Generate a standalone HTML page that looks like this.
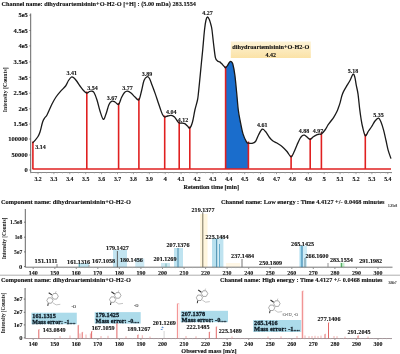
<!DOCTYPE html>
<html><head><meta charset="utf-8"><style>
html,body{margin:0;padding:0;background:#fff;width:400px;height:354px;overflow:hidden}
svg{display:block;font-family:"Liberation Serif",serif;will-change:transform}
</style></head><body>
<svg width="400" height="354" viewBox="0 0 400 354">
<rect width="400" height="354" fill="#fff"/>
<text x="1.5" y="5.7" font-size="7" text-anchor="start" font-weight="bold" fill="#111" stroke="#111" stroke-width="0.12" textLength="194.5" lengthAdjust="spacingAndGlyphs">Channel name: dihydroartemisinin+O-H2-O [+H] : (5.00 mDa) 283.1554</text>
<text x="27.8" y="17.3" font-size="6.5" text-anchor="end" font-weight="bold" fill="#111" stroke="#111" stroke-width="0.12">5e5</text>
<text x="27.8" y="32.6" font-size="6.5" text-anchor="end" font-weight="bold" fill="#111" stroke="#111" stroke-width="0.12">4.5e5</text>
<text x="27.8" y="48.0" font-size="6.5" text-anchor="end" font-weight="bold" fill="#111" stroke="#111" stroke-width="0.12">4e5</text>
<text x="27.8" y="64.0" font-size="6.5" text-anchor="end" font-weight="bold" fill="#111" stroke="#111" stroke-width="0.12">3.5e5</text>
<text x="27.8" y="79.5" font-size="6.5" text-anchor="end" font-weight="bold" fill="#111" stroke="#111" stroke-width="0.12">3e5</text>
<text x="27.8" y="95.3" font-size="6.5" text-anchor="end" font-weight="bold" fill="#111" stroke="#111" stroke-width="0.12">2.5e5</text>
<text x="27.8" y="110.9" font-size="6.5" text-anchor="end" font-weight="bold" fill="#111" stroke="#111" stroke-width="0.12">2e5</text>
<text x="27.8" y="126.1" font-size="6.5" text-anchor="end" font-weight="bold" fill="#111" stroke="#111" stroke-width="0.12">1.5e5</text>
<text x="27.8" y="141.1" font-size="6.5" text-anchor="end" font-weight="bold" fill="#111" stroke="#111" stroke-width="0.12">100000</text>
<text x="27.8" y="157.1" font-size="6.5" text-anchor="end" font-weight="bold" fill="#111" stroke="#111" stroke-width="0.12">50000</text>
<text x="27.8" y="172.1" font-size="6.5" text-anchor="end" font-weight="bold" fill="#111" stroke="#111" stroke-width="0.12">0</text>
<line x1="30.7" y1="13.5" x2="30.7" y2="172.5" stroke="#666" stroke-width="1"/>
<line x1="30.2" y1="172.5" x2="392" y2="172.5" stroke="#888" stroke-width="1"/>
<line x1="38.0" y1="172.5" x2="38.0" y2="174.2" stroke="#888" stroke-width="0.8"/>
<line x1="53.9" y1="172.5" x2="53.9" y2="174.2" stroke="#888" stroke-width="0.8"/>
<line x1="69.8" y1="172.5" x2="69.8" y2="174.2" stroke="#888" stroke-width="0.8"/>
<line x1="85.7" y1="172.5" x2="85.7" y2="174.2" stroke="#888" stroke-width="0.8"/>
<line x1="101.6" y1="172.5" x2="101.6" y2="174.2" stroke="#888" stroke-width="0.8"/>
<line x1="117.5" y1="172.5" x2="117.5" y2="174.2" stroke="#888" stroke-width="0.8"/>
<line x1="133.4" y1="172.5" x2="133.4" y2="174.2" stroke="#888" stroke-width="0.8"/>
<line x1="149.3" y1="172.5" x2="149.3" y2="174.2" stroke="#888" stroke-width="0.8"/>
<line x1="165.2" y1="172.5" x2="165.2" y2="174.2" stroke="#888" stroke-width="0.8"/>
<line x1="181.1" y1="172.5" x2="181.1" y2="174.2" stroke="#888" stroke-width="0.8"/>
<line x1="197.0" y1="172.5" x2="197.0" y2="174.2" stroke="#888" stroke-width="0.8"/>
<line x1="212.9" y1="172.5" x2="212.9" y2="174.2" stroke="#888" stroke-width="0.8"/>
<line x1="228.8" y1="172.5" x2="228.8" y2="174.2" stroke="#888" stroke-width="0.8"/>
<line x1="244.7" y1="172.5" x2="244.7" y2="174.2" stroke="#888" stroke-width="0.8"/>
<line x1="260.6" y1="172.5" x2="260.6" y2="174.2" stroke="#888" stroke-width="0.8"/>
<line x1="276.5" y1="172.5" x2="276.5" y2="174.2" stroke="#888" stroke-width="0.8"/>
<line x1="292.4" y1="172.5" x2="292.4" y2="174.2" stroke="#888" stroke-width="0.8"/>
<line x1="308.3" y1="172.5" x2="308.3" y2="174.2" stroke="#888" stroke-width="0.8"/>
<line x1="324.2" y1="172.5" x2="324.2" y2="174.2" stroke="#888" stroke-width="0.8"/>
<line x1="340.1" y1="172.5" x2="340.1" y2="174.2" stroke="#888" stroke-width="0.8"/>
<line x1="356.0" y1="172.5" x2="356.0" y2="174.2" stroke="#888" stroke-width="0.8"/>
<line x1="371.9" y1="172.5" x2="371.9" y2="174.2" stroke="#888" stroke-width="0.8"/>
<line x1="387.8" y1="172.5" x2="387.8" y2="174.2" stroke="#888" stroke-width="0.8"/>
<line x1="30.7" y1="172.5" x2="30.7" y2="173.5" stroke="#aaa" stroke-width="0.6"/>
<line x1="36.0" y1="172.5" x2="36.0" y2="173.5" stroke="#aaa" stroke-width="0.6"/>
<line x1="41.3" y1="172.5" x2="41.3" y2="173.5" stroke="#aaa" stroke-width="0.6"/>
<line x1="46.6" y1="172.5" x2="46.6" y2="173.5" stroke="#aaa" stroke-width="0.6"/>
<line x1="51.9" y1="172.5" x2="51.9" y2="173.5" stroke="#aaa" stroke-width="0.6"/>
<line x1="57.2" y1="172.5" x2="57.2" y2="173.5" stroke="#aaa" stroke-width="0.6"/>
<line x1="62.5" y1="172.5" x2="62.5" y2="173.5" stroke="#aaa" stroke-width="0.6"/>
<line x1="67.8" y1="172.5" x2="67.8" y2="173.5" stroke="#aaa" stroke-width="0.6"/>
<line x1="73.1" y1="172.5" x2="73.1" y2="173.5" stroke="#aaa" stroke-width="0.6"/>
<line x1="78.4" y1="172.5" x2="78.4" y2="173.5" stroke="#aaa" stroke-width="0.6"/>
<line x1="83.7" y1="172.5" x2="83.7" y2="173.5" stroke="#aaa" stroke-width="0.6"/>
<line x1="89.0" y1="172.5" x2="89.0" y2="173.5" stroke="#aaa" stroke-width="0.6"/>
<line x1="94.3" y1="172.5" x2="94.3" y2="173.5" stroke="#aaa" stroke-width="0.6"/>
<line x1="99.6" y1="172.5" x2="99.6" y2="173.5" stroke="#aaa" stroke-width="0.6"/>
<line x1="104.9" y1="172.5" x2="104.9" y2="173.5" stroke="#aaa" stroke-width="0.6"/>
<line x1="110.2" y1="172.5" x2="110.2" y2="173.5" stroke="#aaa" stroke-width="0.6"/>
<line x1="115.5" y1="172.5" x2="115.5" y2="173.5" stroke="#aaa" stroke-width="0.6"/>
<line x1="120.8" y1="172.5" x2="120.8" y2="173.5" stroke="#aaa" stroke-width="0.6"/>
<line x1="126.1" y1="172.5" x2="126.1" y2="173.5" stroke="#aaa" stroke-width="0.6"/>
<line x1="131.4" y1="172.5" x2="131.4" y2="173.5" stroke="#aaa" stroke-width="0.6"/>
<line x1="136.7" y1="172.5" x2="136.7" y2="173.5" stroke="#aaa" stroke-width="0.6"/>
<line x1="142.0" y1="172.5" x2="142.0" y2="173.5" stroke="#aaa" stroke-width="0.6"/>
<line x1="147.3" y1="172.5" x2="147.3" y2="173.5" stroke="#aaa" stroke-width="0.6"/>
<line x1="152.6" y1="172.5" x2="152.6" y2="173.5" stroke="#aaa" stroke-width="0.6"/>
<line x1="157.9" y1="172.5" x2="157.9" y2="173.5" stroke="#aaa" stroke-width="0.6"/>
<line x1="163.2" y1="172.5" x2="163.2" y2="173.5" stroke="#aaa" stroke-width="0.6"/>
<line x1="168.5" y1="172.5" x2="168.5" y2="173.5" stroke="#aaa" stroke-width="0.6"/>
<line x1="173.8" y1="172.5" x2="173.8" y2="173.5" stroke="#aaa" stroke-width="0.6"/>
<line x1="179.1" y1="172.5" x2="179.1" y2="173.5" stroke="#aaa" stroke-width="0.6"/>
<line x1="184.4" y1="172.5" x2="184.4" y2="173.5" stroke="#aaa" stroke-width="0.6"/>
<line x1="189.7" y1="172.5" x2="189.7" y2="173.5" stroke="#aaa" stroke-width="0.6"/>
<line x1="195.0" y1="172.5" x2="195.0" y2="173.5" stroke="#aaa" stroke-width="0.6"/>
<line x1="200.3" y1="172.5" x2="200.3" y2="173.5" stroke="#aaa" stroke-width="0.6"/>
<line x1="205.6" y1="172.5" x2="205.6" y2="173.5" stroke="#aaa" stroke-width="0.6"/>
<line x1="210.9" y1="172.5" x2="210.9" y2="173.5" stroke="#aaa" stroke-width="0.6"/>
<line x1="216.2" y1="172.5" x2="216.2" y2="173.5" stroke="#aaa" stroke-width="0.6"/>
<line x1="221.5" y1="172.5" x2="221.5" y2="173.5" stroke="#aaa" stroke-width="0.6"/>
<line x1="226.8" y1="172.5" x2="226.8" y2="173.5" stroke="#aaa" stroke-width="0.6"/>
<line x1="232.1" y1="172.5" x2="232.1" y2="173.5" stroke="#aaa" stroke-width="0.6"/>
<line x1="237.4" y1="172.5" x2="237.4" y2="173.5" stroke="#aaa" stroke-width="0.6"/>
<line x1="242.7" y1="172.5" x2="242.7" y2="173.5" stroke="#aaa" stroke-width="0.6"/>
<line x1="248.0" y1="172.5" x2="248.0" y2="173.5" stroke="#aaa" stroke-width="0.6"/>
<line x1="253.3" y1="172.5" x2="253.3" y2="173.5" stroke="#aaa" stroke-width="0.6"/>
<line x1="258.6" y1="172.5" x2="258.6" y2="173.5" stroke="#aaa" stroke-width="0.6"/>
<line x1="263.9" y1="172.5" x2="263.9" y2="173.5" stroke="#aaa" stroke-width="0.6"/>
<line x1="269.2" y1="172.5" x2="269.2" y2="173.5" stroke="#aaa" stroke-width="0.6"/>
<line x1="274.5" y1="172.5" x2="274.5" y2="173.5" stroke="#aaa" stroke-width="0.6"/>
<line x1="279.8" y1="172.5" x2="279.8" y2="173.5" stroke="#aaa" stroke-width="0.6"/>
<line x1="285.1" y1="172.5" x2="285.1" y2="173.5" stroke="#aaa" stroke-width="0.6"/>
<line x1="290.4" y1="172.5" x2="290.4" y2="173.5" stroke="#aaa" stroke-width="0.6"/>
<line x1="295.7" y1="172.5" x2="295.7" y2="173.5" stroke="#aaa" stroke-width="0.6"/>
<line x1="301.0" y1="172.5" x2="301.0" y2="173.5" stroke="#aaa" stroke-width="0.6"/>
<line x1="306.3" y1="172.5" x2="306.3" y2="173.5" stroke="#aaa" stroke-width="0.6"/>
<line x1="311.6" y1="172.5" x2="311.6" y2="173.5" stroke="#aaa" stroke-width="0.6"/>
<line x1="316.9" y1="172.5" x2="316.9" y2="173.5" stroke="#aaa" stroke-width="0.6"/>
<line x1="322.2" y1="172.5" x2="322.2" y2="173.5" stroke="#aaa" stroke-width="0.6"/>
<line x1="327.5" y1="172.5" x2="327.5" y2="173.5" stroke="#aaa" stroke-width="0.6"/>
<line x1="332.8" y1="172.5" x2="332.8" y2="173.5" stroke="#aaa" stroke-width="0.6"/>
<line x1="338.1" y1="172.5" x2="338.1" y2="173.5" stroke="#aaa" stroke-width="0.6"/>
<line x1="343.4" y1="172.5" x2="343.4" y2="173.5" stroke="#aaa" stroke-width="0.6"/>
<line x1="348.7" y1="172.5" x2="348.7" y2="173.5" stroke="#aaa" stroke-width="0.6"/>
<line x1="354.0" y1="172.5" x2="354.0" y2="173.5" stroke="#aaa" stroke-width="0.6"/>
<line x1="359.3" y1="172.5" x2="359.3" y2="173.5" stroke="#aaa" stroke-width="0.6"/>
<line x1="364.6" y1="172.5" x2="364.6" y2="173.5" stroke="#aaa" stroke-width="0.6"/>
<line x1="369.9" y1="172.5" x2="369.9" y2="173.5" stroke="#aaa" stroke-width="0.6"/>
<line x1="375.2" y1="172.5" x2="375.2" y2="173.5" stroke="#aaa" stroke-width="0.6"/>
<line x1="380.5" y1="172.5" x2="380.5" y2="173.5" stroke="#aaa" stroke-width="0.6"/>
<line x1="385.8" y1="172.5" x2="385.8" y2="173.5" stroke="#aaa" stroke-width="0.6"/>
<line x1="391.1" y1="172.5" x2="391.1" y2="173.5" stroke="#aaa" stroke-width="0.6"/>
<line x1="29.3" y1="15.2" x2="30.7" y2="15.2" stroke="#666" stroke-width="0.8"/>
<line x1="29.3" y1="30.5" x2="30.7" y2="30.5" stroke="#666" stroke-width="0.8"/>
<line x1="29.3" y1="45.9" x2="30.7" y2="45.9" stroke="#666" stroke-width="0.8"/>
<line x1="29.3" y1="61.9" x2="30.7" y2="61.9" stroke="#666" stroke-width="0.8"/>
<line x1="29.3" y1="77.4" x2="30.7" y2="77.4" stroke="#666" stroke-width="0.8"/>
<line x1="29.3" y1="93.2" x2="30.7" y2="93.2" stroke="#666" stroke-width="0.8"/>
<line x1="29.3" y1="108.8" x2="30.7" y2="108.8" stroke="#666" stroke-width="0.8"/>
<line x1="29.3" y1="124" x2="30.7" y2="124" stroke="#666" stroke-width="0.8"/>
<line x1="29.3" y1="139" x2="30.7" y2="139" stroke="#666" stroke-width="0.8"/>
<line x1="29.3" y1="155" x2="30.7" y2="155" stroke="#666" stroke-width="0.8"/>
<line x1="29.3" y1="170" x2="30.7" y2="170" stroke="#666" stroke-width="0.8"/>
<text x="38.0" y="180.9" font-size="6.8" text-anchor="middle" font-weight="bold" fill="#111" stroke="#111" stroke-width="0.12" textLength="7.2" lengthAdjust="spacingAndGlyphs">3.2</text>
<text x="53.9" y="180.9" font-size="6.8" text-anchor="middle" font-weight="bold" fill="#111" stroke="#111" stroke-width="0.12" textLength="7.2" lengthAdjust="spacingAndGlyphs">3.3</text>
<text x="69.8" y="180.9" font-size="6.8" text-anchor="middle" font-weight="bold" fill="#111" stroke="#111" stroke-width="0.12" textLength="7.2" lengthAdjust="spacingAndGlyphs">3.4</text>
<text x="85.7" y="180.9" font-size="6.8" text-anchor="middle" font-weight="bold" fill="#111" stroke="#111" stroke-width="0.12" textLength="7.2" lengthAdjust="spacingAndGlyphs">3.5</text>
<text x="101.6" y="180.9" font-size="6.8" text-anchor="middle" font-weight="bold" fill="#111" stroke="#111" stroke-width="0.12" textLength="7.2" lengthAdjust="spacingAndGlyphs">3.6</text>
<text x="117.5" y="180.9" font-size="6.8" text-anchor="middle" font-weight="bold" fill="#111" stroke="#111" stroke-width="0.12" textLength="7.2" lengthAdjust="spacingAndGlyphs">3.7</text>
<text x="133.4" y="180.9" font-size="6.8" text-anchor="middle" font-weight="bold" fill="#111" stroke="#111" stroke-width="0.12" textLength="7.2" lengthAdjust="spacingAndGlyphs">3.8</text>
<text x="149.3" y="180.9" font-size="6.8" text-anchor="middle" font-weight="bold" fill="#111" stroke="#111" stroke-width="0.12" textLength="7.2" lengthAdjust="spacingAndGlyphs">3.9</text>
<text x="165.2" y="180.9" font-size="6.8" text-anchor="middle" font-weight="bold" fill="#111" stroke="#111" stroke-width="0.12" textLength="3.4" lengthAdjust="spacingAndGlyphs">4</text>
<text x="181.1" y="180.9" font-size="6.8" text-anchor="middle" font-weight="bold" fill="#111" stroke="#111" stroke-width="0.12" textLength="7.2" lengthAdjust="spacingAndGlyphs">4.1</text>
<text x="197.0" y="180.9" font-size="6.8" text-anchor="middle" font-weight="bold" fill="#111" stroke="#111" stroke-width="0.12" textLength="7.2" lengthAdjust="spacingAndGlyphs">4.2</text>
<text x="212.9" y="180.9" font-size="6.8" text-anchor="middle" font-weight="bold" fill="#111" stroke="#111" stroke-width="0.12" textLength="7.2" lengthAdjust="spacingAndGlyphs">4.3</text>
<text x="228.8" y="180.9" font-size="6.8" text-anchor="middle" font-weight="bold" fill="#111" stroke="#111" stroke-width="0.12" textLength="7.2" lengthAdjust="spacingAndGlyphs">4.4</text>
<text x="244.7" y="180.9" font-size="6.8" text-anchor="middle" font-weight="bold" fill="#111" stroke="#111" stroke-width="0.12" textLength="7.2" lengthAdjust="spacingAndGlyphs">4.5</text>
<text x="260.6" y="180.9" font-size="6.8" text-anchor="middle" font-weight="bold" fill="#111" stroke="#111" stroke-width="0.12" textLength="7.2" lengthAdjust="spacingAndGlyphs">4.6</text>
<text x="276.5" y="180.9" font-size="6.8" text-anchor="middle" font-weight="bold" fill="#111" stroke="#111" stroke-width="0.12" textLength="7.2" lengthAdjust="spacingAndGlyphs">4.7</text>
<text x="292.4" y="180.9" font-size="6.8" text-anchor="middle" font-weight="bold" fill="#111" stroke="#111" stroke-width="0.12" textLength="7.2" lengthAdjust="spacingAndGlyphs">4.8</text>
<text x="308.3" y="180.9" font-size="6.8" text-anchor="middle" font-weight="bold" fill="#111" stroke="#111" stroke-width="0.12" textLength="7.2" lengthAdjust="spacingAndGlyphs">4.9</text>
<text x="324.2" y="180.9" font-size="6.8" text-anchor="middle" font-weight="bold" fill="#111" stroke="#111" stroke-width="0.12" textLength="3.4" lengthAdjust="spacingAndGlyphs">5</text>
<text x="340.1" y="180.9" font-size="6.8" text-anchor="middle" font-weight="bold" fill="#111" stroke="#111" stroke-width="0.12" textLength="7.2" lengthAdjust="spacingAndGlyphs">5.1</text>
<text x="356.0" y="180.9" font-size="6.8" text-anchor="middle" font-weight="bold" fill="#111" stroke="#111" stroke-width="0.12" textLength="7.2" lengthAdjust="spacingAndGlyphs">5.2</text>
<text x="371.9" y="180.9" font-size="6.8" text-anchor="middle" font-weight="bold" fill="#111" stroke="#111" stroke-width="0.12" textLength="7.2" lengthAdjust="spacingAndGlyphs">5.3</text>
<text x="387.8" y="180.9" font-size="6.8" text-anchor="middle" font-weight="bold" fill="#111" stroke="#111" stroke-width="0.12" textLength="7.2" lengthAdjust="spacingAndGlyphs">5.4</text>
<text x="211.3" y="189.2" font-size="6.8" text-anchor="middle" font-weight="bold" fill="#111" stroke="#111" stroke-width="0.12" textLength="55.5" lengthAdjust="spacingAndGlyphs">Retention time [min]</text>
<text transform="translate(7.2,89.8) rotate(-90)" font-size="6.8" text-anchor="middle" font-weight="bold" fill="#111" textLength="45" lengthAdjust="spacingAndGlyphs">Intensity [Counts]</text>
<path d="M225.6,67.8 C225.92,67.42 226.88,66.38 227.5,65.5 C228.12,64.62 228.72,63.17 229.3,62.5 C229.88,61.83 230.42,61.25 231,61.5 C231.58,61.75 232.15,61.68 232.8,64 C233.45,66.32 234.25,70.57 234.9,75.4 C235.55,80.23 236.13,87.23 236.7,93 C237.27,98.77 237.72,105.33 238.3,110 C238.88,114.67 239.42,117.02 240.2,121 C240.98,124.98 241.93,130.38 243,133.9 C244.07,137.42 245.70,140.58 246.6,142.1 C247.50,143.62 248.10,142.85 248.4,143 L248.4,169 L225.6,169 Z" fill="#1a6dcc" stroke="none"/>
<line x1="32.5" y1="169" x2="391" y2="169" stroke="#e02020" stroke-width="1.6"/>
<line x1="32.9" y1="141.5" x2="32.9" y2="169" stroke="#e02020" stroke-width="1.6"/>
<line x1="86.8" y1="91.5" x2="86.8" y2="169" stroke="#e02020" stroke-width="1.6"/>
<line x1="118.6" y1="102.9" x2="118.6" y2="169" stroke="#e02020" stroke-width="1.6"/>
<line x1="138.9" y1="98.3" x2="138.9" y2="169" stroke="#e02020" stroke-width="1.6"/>
<line x1="164.7" y1="115.5" x2="164.7" y2="169" stroke="#e02020" stroke-width="1.6"/>
<line x1="179.2" y1="121.5" x2="179.2" y2="169" stroke="#e02020" stroke-width="1.6"/>
<line x1="189.8" y1="126.5" x2="189.8" y2="169" stroke="#e02020" stroke-width="1.6"/>
<line x1="225.6" y1="66.3" x2="225.6" y2="169" stroke="#e02020" stroke-width="1.6"/>
<line x1="248.4" y1="141.5" x2="248.4" y2="169" stroke="#e02020" stroke-width="1.6"/>
<line x1="291.1" y1="155.3" x2="291.1" y2="169" stroke="#e02020" stroke-width="1.6"/>
<line x1="310.2" y1="137.9" x2="310.2" y2="169" stroke="#e02020" stroke-width="1.6"/>
<line x1="321.4" y1="132.4" x2="321.4" y2="169" stroke="#e02020" stroke-width="1.6"/>
<line x1="365.3" y1="134.2" x2="365.3" y2="169" stroke="#e02020" stroke-width="1.6"/>
<path d="M32.5,143 C32.92,142.57 34.08,141.48 35,140.4 C35.92,139.32 37.17,137.90 38,136.5 C38.83,135.10 39.22,134.45 40,132 C40.78,129.55 41.87,124.22 42.7,121.8 C43.53,119.38 44.28,118.63 45,117.5 C45.72,116.37 45.83,117.25 47,115 C48.17,112.75 50.50,107.00 52,104 C53.50,101.00 54.58,99.10 56,97 C57.42,94.90 58.90,93.23 60.5,91.4 C62.10,89.57 64.27,87.82 65.6,86 C66.93,84.18 67.52,82.00 68.5,80.5 C69.48,79.00 70.58,77.42 71.5,77 C72.42,76.58 73.08,77.25 74,78 C74.92,78.75 76.00,80.17 77,81.5 C78.00,82.83 78.92,84.50 80,86 C81.08,87.50 82.37,89.33 83.5,90.5 C84.63,91.67 85.80,92.83 86.8,93 C87.80,93.17 88.67,91.80 89.5,91.5 C90.33,91.20 91.05,91.03 91.8,91.2 C92.55,91.37 93.13,91.03 94,92.5 C94.87,93.97 96.00,96.92 97,100 C98.00,103.08 98.95,107.78 100,111 C101.05,114.22 102.30,118.80 103.3,119.3 C104.30,119.80 105.05,116.47 106,114 C106.95,111.53 108.00,106.63 109,104.5 C110.00,102.37 111.00,101.62 112,101.2 C113.00,100.78 113.90,101.47 115,102 C116.10,102.53 117.52,105.15 118.6,104.4 C119.68,103.65 120.52,99.48 121.5,97.5 C122.48,95.52 123.52,93.55 124.5,92.5 C125.48,91.45 126.32,91.12 127.4,91.2 C128.48,91.28 129.73,92.03 131,93 C132.27,93.97 133.68,95.87 135,97 C136.32,98.13 137.82,100.80 138.9,99.8 C139.98,98.80 140.65,94.22 141.5,91 C142.35,87.78 143.10,82.87 144,80.5 C144.90,78.13 145.98,77.13 146.9,76.8 C147.82,76.47 148.65,77.13 149.5,78.5 C150.35,79.87 151.03,82.43 152,85 C152.97,87.57 154.30,91.07 155.3,93.9 C156.30,96.73 157.15,99.48 158,102 C158.85,104.52 159.65,106.92 160.4,109 C161.15,111.08 161.78,113.17 162.5,114.5 C163.22,115.83 163.87,116.75 164.7,117 C165.53,117.25 166.42,116.28 167.5,116 C168.58,115.72 170.03,115.13 171.2,115.3 C172.37,115.47 173.53,116.13 174.5,117 C175.47,117.87 176.22,119.50 177,120.5 C177.78,121.50 178.37,122.58 179.2,123 C180.03,123.42 181.08,122.90 182,123 C182.92,123.10 183.78,123.10 184.7,123.6 C185.62,124.10 186.65,125.27 187.5,126 C188.35,126.73 188.97,128.67 189.8,128 C190.63,127.33 191.65,125.00 192.5,122 C193.35,119.00 194.07,113.67 194.9,110 C195.73,106.33 196.90,102.93 197.5,100 C198.10,97.07 198.05,96.50 198.5,92.4 C198.95,88.30 199.70,80.47 200.2,75.4 C200.70,70.33 201.08,66.23 201.5,62 C201.92,57.77 202.20,55.33 202.7,50 C203.20,44.67 203.95,35.00 204.5,30 C205.05,25.00 205.50,22.17 206,20 C206.50,17.83 206.95,17.08 207.5,17 C208.05,16.92 208.72,18.17 209.3,19.5 C209.88,20.83 210.55,23.25 211,25 C211.45,26.75 211.55,26.67 212,30 C212.45,33.33 213.13,40.40 213.7,45 C214.27,49.60 214.77,54.93 215.4,57.6 C216.03,60.27 216.78,60.28 217.5,61 C218.22,61.72 219.03,61.48 219.7,61.9 C220.37,62.32 220.80,62.80 221.5,63.5 C222.20,64.20 223.22,65.38 223.9,66.1 C224.58,66.82 225.00,67.90 225.6,67.8 C226.20,67.70 226.88,66.38 227.5,65.5 C228.12,64.62 228.72,63.17 229.3,62.5 C229.88,61.83 230.42,61.25 231,61.5 C231.58,61.75 232.15,61.68 232.8,64 C233.45,66.32 234.25,70.57 234.9,75.4 C235.55,80.23 236.13,87.23 236.7,93 C237.27,98.77 237.72,105.33 238.3,110 C238.88,114.67 239.42,117.02 240.2,121 C240.98,124.98 241.93,130.38 243,133.9 C244.07,137.42 245.70,140.58 246.6,142.1 C247.50,143.62 247.48,142.78 248.4,143 C249.32,143.22 250.92,143.65 252.1,143.4 C253.28,143.15 254.43,142.90 255.5,141.5 C256.57,140.10 257.38,137.05 258.5,135 C259.62,132.95 261.03,129.78 262.2,129.2 C263.37,128.62 264.28,130.12 265.5,131.5 C266.72,132.88 268.25,135.92 269.5,137.5 C270.75,139.08 271.77,140.08 273,141 C274.23,141.92 275.35,142.05 276.9,143 C278.45,143.95 280.62,145.28 282.3,146.7 C283.98,148.12 285.53,149.82 287,151.5 C288.47,153.18 289.93,156.72 291.1,156.8 C292.27,156.88 293.02,153.98 294,152 C294.98,150.02 296.00,147.15 297,144.9 C298.00,142.65 299.08,140.07 300,138.5 C300.92,136.93 301.75,136.05 302.5,135.5 C303.25,134.95 303.75,134.95 304.5,135.2 C305.25,135.45 306.05,136.30 307,137 C307.95,137.70 309.20,139.40 310.2,139.4 C311.20,139.40 311.83,137.80 313,137 C314.17,136.20 316.12,135.07 317.2,134.6 C318.28,134.13 318.80,134.32 319.5,134.2 C320.20,134.08 320.48,134.60 321.4,133.9 C322.32,133.20 323.87,131.53 325,130 C326.13,128.47 327.20,126.20 328.2,124.7 C329.20,123.20 330.08,122.23 331,121 C331.92,119.77 332.73,118.85 333.7,117.3 C334.67,115.75 336.00,113.33 336.8,111.7 C337.60,110.07 337.93,109.05 338.5,107.5 C339.07,105.95 339.65,104.32 340.2,102.4 C340.75,100.48 341.23,97.83 341.8,96 C342.37,94.17 342.73,93.17 343.6,91.4 C344.47,89.63 345.93,87.22 347,85.4 C348.07,83.58 349.02,82.37 350,80.5 C350.98,78.63 352.10,74.78 352.9,74.2 C353.70,73.62 354.23,75.13 354.8,77 C355.37,78.87 355.77,82.58 356.3,85.4 C356.83,88.22 357.43,89.93 358,93.9 C358.57,97.87 359.20,105.10 359.7,109.2 C360.20,113.30 360.53,115.62 361,118.5 C361.47,121.38 361.78,123.63 362.5,126.5 C363.22,129.37 364.30,134.95 365.3,135.7 C366.30,136.45 367.43,132.53 368.5,131 C369.57,129.47 370.62,128.17 371.7,126.5 C372.78,124.83 373.87,122.38 375,121 C376.13,119.62 377.50,118.03 378.5,118.2 C379.50,118.37 380.15,120.00 381,122 C381.85,124.00 382.77,127.12 383.6,130.2 C384.43,133.28 385.23,137.13 386,140.5 C386.77,143.87 387.37,147.38 388.2,150.4 C389.03,153.42 390.53,157.23 391,158.6" fill="none" stroke="#1a1a1a" stroke-width="1.3" stroke-linejoin="round"/>
<text x="40.5" y="148.7" font-size="7" text-anchor="middle" font-weight="bold" fill="#111" stroke="#111" stroke-width="0.12" textLength="10.5" lengthAdjust="spacingAndGlyphs">3.14</text>
<text x="71.7" y="74.5" font-size="7" text-anchor="middle" font-weight="bold" fill="#111" stroke="#111" stroke-width="0.12" textLength="10.5" lengthAdjust="spacingAndGlyphs">3.41</text>
<text x="92.6" y="90.3" font-size="7" text-anchor="middle" font-weight="bold" fill="#111" stroke="#111" stroke-width="0.12" textLength="10.5" lengthAdjust="spacingAndGlyphs">3.54</text>
<text x="112.0" y="100.3" font-size="7" text-anchor="middle" font-weight="bold" fill="#111" stroke="#111" stroke-width="0.12" textLength="10.5" lengthAdjust="spacingAndGlyphs">3.67</text>
<text x="127.4" y="89.8" font-size="7" text-anchor="middle" font-weight="bold" fill="#111" stroke="#111" stroke-width="0.12" textLength="10.5" lengthAdjust="spacingAndGlyphs">3.77</text>
<text x="146.9" y="75.5" font-size="7" text-anchor="middle" font-weight="bold" fill="#111" stroke="#111" stroke-width="0.12" textLength="10.5" lengthAdjust="spacingAndGlyphs">3.89</text>
<text x="171.2" y="114.2" font-size="7" text-anchor="middle" font-weight="bold" fill="#111" stroke="#111" stroke-width="0.12" textLength="10.5" lengthAdjust="spacingAndGlyphs">4.04</text>
<text x="183.0" y="122.3" font-size="7" text-anchor="middle" font-weight="bold" fill="#111" stroke="#111" stroke-width="0.12" textLength="10.5" lengthAdjust="spacingAndGlyphs">4.12</text>
<text x="207.5" y="15.0" font-size="7" text-anchor="middle" font-weight="bold" fill="#111" stroke="#111" stroke-width="0.12" textLength="10.5" lengthAdjust="spacingAndGlyphs">4.27</text>
<text x="262.2" y="127.3" font-size="7" text-anchor="middle" font-weight="bold" fill="#111" stroke="#111" stroke-width="0.12" textLength="10.5" lengthAdjust="spacingAndGlyphs">4.61</text>
<text x="304.0" y="133.4" font-size="7" text-anchor="middle" font-weight="bold" fill="#111" stroke="#111" stroke-width="0.12" textLength="10.5" lengthAdjust="spacingAndGlyphs">4.88</text>
<text x="318.1" y="133.4" font-size="7" text-anchor="middle" font-weight="bold" fill="#111" stroke="#111" stroke-width="0.12" textLength="10.5" lengthAdjust="spacingAndGlyphs">4.97</text>
<text x="352.9" y="72.5" font-size="7" text-anchor="middle" font-weight="bold" fill="#111" stroke="#111" stroke-width="0.12" textLength="10.5" lengthAdjust="spacingAndGlyphs">5.18</text>
<text x="378.5" y="116.9" font-size="7" text-anchor="middle" font-weight="bold" fill="#111" stroke="#111" stroke-width="0.12" textLength="10.5" lengthAdjust="spacingAndGlyphs">5.35</text>
<defs><linearGradient id="yb" x1="0" y1="0" x2="0" y2="1"><stop offset="0" stop-color="#fdf3d6"/><stop offset="1" stop-color="#fbe2a6"/></linearGradient></defs>
<rect x="230.8" y="41.5" width="80" height="16.5" fill="url(#yb)"/>
<text x="270.8" y="49.2" font-size="6.8" text-anchor="middle" font-weight="bold" fill="#111" stroke="#111" stroke-width="0.12" textLength="77" lengthAdjust="spacingAndGlyphs">dihydroartemisinin+O-H2-O</text>
<text x="270.8" y="56.5" font-size="6.8" text-anchor="middle" font-weight="bold" fill="#111" stroke="#111" stroke-width="0.12" textLength="10.5" lengthAdjust="spacingAndGlyphs">4.42</text>
<text x="1.0" y="203.5" font-size="6.8" text-anchor="start" font-weight="bold" fill="#111" stroke="#111" stroke-width="0.12" textLength="130" lengthAdjust="spacingAndGlyphs">Component name: dihydroartemisinin+O-H2-O</text>
<text x="221.0" y="203.6" font-size="6.8" text-anchor="start" font-weight="bold" fill="#111" stroke="#111" stroke-width="0.12" textLength="163.5" lengthAdjust="spacingAndGlyphs">Channel name: Low energy : Time 4.4127 +/- 0.0468 minutes</text>
<text x="392.6" y="207.2" font-size="3.4" text-anchor="middle" font-weight="bold" fill="#444" stroke="#444" stroke-width="0.1" textLength="9" lengthAdjust="spacingAndGlyphs">1.35e8</text>
<rect x="78" y="263" width="11" height="4.199999999999989" fill="#c4e6f1"/>
<rect x="113" y="250" width="14" height="17.19999999999999" fill="#c2e4f0"/>
<rect x="135.3" y="258.5" width="9" height="8.699999999999989" fill="#cde9f3"/>
<rect x="161" y="263" width="9" height="4.199999999999989" fill="#cde9f3"/>
<rect x="174" y="248" width="9" height="19.19999999999999" fill="#bfe3f0"/>
<rect x="200" y="214" width="7.5" height="53.19999999999999" fill="#fff6de"/>
<rect x="212" y="238" width="4.7" height="29.19999999999999" fill="#b8e0ee"/>
<rect x="216.7" y="238" width="2.5" height="29.19999999999999" fill="#d2edf6"/>
<rect x="219.2" y="238" width="4.2" height="29.19999999999999" fill="#bfe3f0"/>
<rect x="226" y="263" width="14" height="4.199999999999989" fill="#fff7e6"/>
<rect x="299.5" y="245.5" width="3.3" height="21.69999999999999" fill="#a8dcef"/>
<rect x="302.8" y="245.5" width="4.2" height="21.69999999999999" fill="#d0ecf6"/>
<rect x="340" y="262.7" width="4.5" height="4.5" fill="#c6f0cf"/>
<line x1="25.3" y1="209" x2="25.3" y2="267.2" stroke="#555" stroke-width="0.9"/>
<line x1="25.3" y1="267.2" x2="392.5" y2="267.2" stroke="#666" stroke-width="0.9"/>
<line x1="33.2" y1="267.2" x2="33.2" y2="269" stroke="#777" stroke-width="0.8"/>
<line x1="54.8" y1="267.2" x2="54.8" y2="269" stroke="#777" stroke-width="0.8"/>
<line x1="76.3" y1="267.2" x2="76.3" y2="269" stroke="#777" stroke-width="0.8"/>
<line x1="97.8" y1="267.2" x2="97.8" y2="269" stroke="#777" stroke-width="0.8"/>
<line x1="119.4" y1="267.2" x2="119.4" y2="269" stroke="#777" stroke-width="0.8"/>
<line x1="140.9" y1="267.2" x2="140.9" y2="269" stroke="#777" stroke-width="0.8"/>
<line x1="162.5" y1="267.2" x2="162.5" y2="269" stroke="#777" stroke-width="0.8"/>
<line x1="184.1" y1="267.2" x2="184.1" y2="269" stroke="#777" stroke-width="0.8"/>
<line x1="205.6" y1="267.2" x2="205.6" y2="269" stroke="#777" stroke-width="0.8"/>
<line x1="227.1" y1="267.2" x2="227.1" y2="269" stroke="#777" stroke-width="0.8"/>
<line x1="248.7" y1="267.2" x2="248.7" y2="269" stroke="#777" stroke-width="0.8"/>
<line x1="270.2" y1="267.2" x2="270.2" y2="269" stroke="#777" stroke-width="0.8"/>
<line x1="291.8" y1="267.2" x2="291.8" y2="269" stroke="#777" stroke-width="0.8"/>
<line x1="313.3" y1="267.2" x2="313.3" y2="269" stroke="#777" stroke-width="0.8"/>
<line x1="334.9" y1="267.2" x2="334.9" y2="269" stroke="#777" stroke-width="0.8"/>
<line x1="356.4" y1="267.2" x2="356.4" y2="269" stroke="#777" stroke-width="0.8"/>
<line x1="378.0" y1="267.2" x2="378.0" y2="269" stroke="#777" stroke-width="0.8"/>
<line x1="28.9" y1="267.2" x2="28.9" y2="268.2" stroke="#aaa" stroke-width="0.5"/>
<line x1="33.2" y1="267.2" x2="33.2" y2="268.2" stroke="#aaa" stroke-width="0.5"/>
<line x1="37.5" y1="267.2" x2="37.5" y2="268.2" stroke="#aaa" stroke-width="0.5"/>
<line x1="41.8" y1="267.2" x2="41.8" y2="268.2" stroke="#aaa" stroke-width="0.5"/>
<line x1="46.1" y1="267.2" x2="46.1" y2="268.2" stroke="#aaa" stroke-width="0.5"/>
<line x1="50.4" y1="267.2" x2="50.4" y2="268.2" stroke="#aaa" stroke-width="0.5"/>
<line x1="54.8" y1="267.2" x2="54.8" y2="268.2" stroke="#aaa" stroke-width="0.5"/>
<line x1="59.1" y1="267.2" x2="59.1" y2="268.2" stroke="#aaa" stroke-width="0.5"/>
<line x1="63.4" y1="267.2" x2="63.4" y2="268.2" stroke="#aaa" stroke-width="0.5"/>
<line x1="67.7" y1="267.2" x2="67.7" y2="268.2" stroke="#aaa" stroke-width="0.5"/>
<line x1="72.0" y1="267.2" x2="72.0" y2="268.2" stroke="#aaa" stroke-width="0.5"/>
<line x1="76.3" y1="267.2" x2="76.3" y2="268.2" stroke="#aaa" stroke-width="0.5"/>
<line x1="80.6" y1="267.2" x2="80.6" y2="268.2" stroke="#aaa" stroke-width="0.5"/>
<line x1="84.9" y1="267.2" x2="84.9" y2="268.2" stroke="#aaa" stroke-width="0.5"/>
<line x1="89.2" y1="267.2" x2="89.2" y2="268.2" stroke="#aaa" stroke-width="0.5"/>
<line x1="93.5" y1="267.2" x2="93.5" y2="268.2" stroke="#aaa" stroke-width="0.5"/>
<line x1="97.8" y1="267.2" x2="97.8" y2="268.2" stroke="#aaa" stroke-width="0.5"/>
<line x1="102.2" y1="267.2" x2="102.2" y2="268.2" stroke="#aaa" stroke-width="0.5"/>
<line x1="106.5" y1="267.2" x2="106.5" y2="268.2" stroke="#aaa" stroke-width="0.5"/>
<line x1="110.8" y1="267.2" x2="110.8" y2="268.2" stroke="#aaa" stroke-width="0.5"/>
<line x1="115.1" y1="267.2" x2="115.1" y2="268.2" stroke="#aaa" stroke-width="0.5"/>
<line x1="119.4" y1="267.2" x2="119.4" y2="268.2" stroke="#aaa" stroke-width="0.5"/>
<line x1="123.7" y1="267.2" x2="123.7" y2="268.2" stroke="#aaa" stroke-width="0.5"/>
<line x1="128.0" y1="267.2" x2="128.0" y2="268.2" stroke="#aaa" stroke-width="0.5"/>
<line x1="132.3" y1="267.2" x2="132.3" y2="268.2" stroke="#aaa" stroke-width="0.5"/>
<line x1="136.6" y1="267.2" x2="136.6" y2="268.2" stroke="#aaa" stroke-width="0.5"/>
<line x1="140.9" y1="267.2" x2="140.9" y2="268.2" stroke="#aaa" stroke-width="0.5"/>
<line x1="145.3" y1="267.2" x2="145.3" y2="268.2" stroke="#aaa" stroke-width="0.5"/>
<line x1="149.6" y1="267.2" x2="149.6" y2="268.2" stroke="#aaa" stroke-width="0.5"/>
<line x1="153.9" y1="267.2" x2="153.9" y2="268.2" stroke="#aaa" stroke-width="0.5"/>
<line x1="158.2" y1="267.2" x2="158.2" y2="268.2" stroke="#aaa" stroke-width="0.5"/>
<line x1="162.5" y1="267.2" x2="162.5" y2="268.2" stroke="#aaa" stroke-width="0.5"/>
<line x1="166.8" y1="267.2" x2="166.8" y2="268.2" stroke="#aaa" stroke-width="0.5"/>
<line x1="171.1" y1="267.2" x2="171.1" y2="268.2" stroke="#aaa" stroke-width="0.5"/>
<line x1="175.4" y1="267.2" x2="175.4" y2="268.2" stroke="#aaa" stroke-width="0.5"/>
<line x1="179.7" y1="267.2" x2="179.7" y2="268.2" stroke="#aaa" stroke-width="0.5"/>
<line x1="184.1" y1="267.2" x2="184.1" y2="268.2" stroke="#aaa" stroke-width="0.5"/>
<line x1="188.4" y1="267.2" x2="188.4" y2="268.2" stroke="#aaa" stroke-width="0.5"/>
<line x1="192.7" y1="267.2" x2="192.7" y2="268.2" stroke="#aaa" stroke-width="0.5"/>
<line x1="197.0" y1="267.2" x2="197.0" y2="268.2" stroke="#aaa" stroke-width="0.5"/>
<line x1="201.3" y1="267.2" x2="201.3" y2="268.2" stroke="#aaa" stroke-width="0.5"/>
<line x1="205.6" y1="267.2" x2="205.6" y2="268.2" stroke="#aaa" stroke-width="0.5"/>
<line x1="209.9" y1="267.2" x2="209.9" y2="268.2" stroke="#aaa" stroke-width="0.5"/>
<line x1="214.2" y1="267.2" x2="214.2" y2="268.2" stroke="#aaa" stroke-width="0.5"/>
<line x1="218.5" y1="267.2" x2="218.5" y2="268.2" stroke="#aaa" stroke-width="0.5"/>
<line x1="222.8" y1="267.2" x2="222.8" y2="268.2" stroke="#aaa" stroke-width="0.5"/>
<line x1="227.1" y1="267.2" x2="227.1" y2="268.2" stroke="#aaa" stroke-width="0.5"/>
<line x1="231.5" y1="267.2" x2="231.5" y2="268.2" stroke="#aaa" stroke-width="0.5"/>
<line x1="235.8" y1="267.2" x2="235.8" y2="268.2" stroke="#aaa" stroke-width="0.5"/>
<line x1="240.1" y1="267.2" x2="240.1" y2="268.2" stroke="#aaa" stroke-width="0.5"/>
<line x1="244.4" y1="267.2" x2="244.4" y2="268.2" stroke="#aaa" stroke-width="0.5"/>
<line x1="248.7" y1="267.2" x2="248.7" y2="268.2" stroke="#aaa" stroke-width="0.5"/>
<line x1="253.0" y1="267.2" x2="253.0" y2="268.2" stroke="#aaa" stroke-width="0.5"/>
<line x1="257.3" y1="267.2" x2="257.3" y2="268.2" stroke="#aaa" stroke-width="0.5"/>
<line x1="261.6" y1="267.2" x2="261.6" y2="268.2" stroke="#aaa" stroke-width="0.5"/>
<line x1="265.9" y1="267.2" x2="265.9" y2="268.2" stroke="#aaa" stroke-width="0.5"/>
<line x1="270.2" y1="267.2" x2="270.2" y2="268.2" stroke="#aaa" stroke-width="0.5"/>
<line x1="274.6" y1="267.2" x2="274.6" y2="268.2" stroke="#aaa" stroke-width="0.5"/>
<line x1="278.9" y1="267.2" x2="278.9" y2="268.2" stroke="#aaa" stroke-width="0.5"/>
<line x1="283.2" y1="267.2" x2="283.2" y2="268.2" stroke="#aaa" stroke-width="0.5"/>
<line x1="287.5" y1="267.2" x2="287.5" y2="268.2" stroke="#aaa" stroke-width="0.5"/>
<line x1="291.8" y1="267.2" x2="291.8" y2="268.2" stroke="#aaa" stroke-width="0.5"/>
<line x1="296.1" y1="267.2" x2="296.1" y2="268.2" stroke="#aaa" stroke-width="0.5"/>
<line x1="300.4" y1="267.2" x2="300.4" y2="268.2" stroke="#aaa" stroke-width="0.5"/>
<line x1="304.7" y1="267.2" x2="304.7" y2="268.2" stroke="#aaa" stroke-width="0.5"/>
<line x1="309.0" y1="267.2" x2="309.0" y2="268.2" stroke="#aaa" stroke-width="0.5"/>
<line x1="313.3" y1="267.2" x2="313.3" y2="268.2" stroke="#aaa" stroke-width="0.5"/>
<line x1="317.7" y1="267.2" x2="317.7" y2="268.2" stroke="#aaa" stroke-width="0.5"/>
<line x1="322.0" y1="267.2" x2="322.0" y2="268.2" stroke="#aaa" stroke-width="0.5"/>
<line x1="326.3" y1="267.2" x2="326.3" y2="268.2" stroke="#aaa" stroke-width="0.5"/>
<line x1="330.6" y1="267.2" x2="330.6" y2="268.2" stroke="#aaa" stroke-width="0.5"/>
<line x1="334.9" y1="267.2" x2="334.9" y2="268.2" stroke="#aaa" stroke-width="0.5"/>
<line x1="339.2" y1="267.2" x2="339.2" y2="268.2" stroke="#aaa" stroke-width="0.5"/>
<line x1="343.5" y1="267.2" x2="343.5" y2="268.2" stroke="#aaa" stroke-width="0.5"/>
<line x1="347.8" y1="267.2" x2="347.8" y2="268.2" stroke="#aaa" stroke-width="0.5"/>
<line x1="352.1" y1="267.2" x2="352.1" y2="268.2" stroke="#aaa" stroke-width="0.5"/>
<line x1="356.4" y1="267.2" x2="356.4" y2="268.2" stroke="#aaa" stroke-width="0.5"/>
<line x1="360.8" y1="267.2" x2="360.8" y2="268.2" stroke="#aaa" stroke-width="0.5"/>
<line x1="365.1" y1="267.2" x2="365.1" y2="268.2" stroke="#aaa" stroke-width="0.5"/>
<line x1="369.4" y1="267.2" x2="369.4" y2="268.2" stroke="#aaa" stroke-width="0.5"/>
<line x1="373.7" y1="267.2" x2="373.7" y2="268.2" stroke="#aaa" stroke-width="0.5"/>
<line x1="378.0" y1="267.2" x2="378.0" y2="268.2" stroke="#aaa" stroke-width="0.5"/>
<line x1="382.3" y1="267.2" x2="382.3" y2="268.2" stroke="#aaa" stroke-width="0.5"/>
<line x1="386.6" y1="267.2" x2="386.6" y2="268.2" stroke="#aaa" stroke-width="0.5"/>
<line x1="390.9" y1="267.2" x2="390.9" y2="268.2" stroke="#aaa" stroke-width="0.5"/>
<text x="22.3" y="224.3" font-size="6.5" text-anchor="end" font-weight="bold" fill="#111" stroke="#111" stroke-width="0.05" textLength="12.3" lengthAdjust="spacingAndGlyphs">1.5e8</text>
<line x1="24" y1="222.2" x2="25.3" y2="222.2" stroke="#555" stroke-width="0.8"/>
<text x="22.3" y="239.3" font-size="6.5" text-anchor="end" font-weight="bold" fill="#111" stroke="#111" stroke-width="0.05" textLength="7.6" lengthAdjust="spacingAndGlyphs">1e8</text>
<line x1="24" y1="237.2" x2="25.3" y2="237.2" stroke="#555" stroke-width="0.8"/>
<text x="22.3" y="254.0" font-size="6.5" text-anchor="end" font-weight="bold" fill="#111" stroke="#111" stroke-width="0.05" textLength="8.2" lengthAdjust="spacingAndGlyphs">5e7</text>
<line x1="24" y1="251.9" x2="25.3" y2="251.9" stroke="#555" stroke-width="0.8"/>
<text x="22.3" y="268.7" font-size="6.5" text-anchor="end" font-weight="bold" fill="#111" stroke="#111" stroke-width="0.05" textLength="3.3" lengthAdjust="spacingAndGlyphs">0</text>
<line x1="24" y1="266.6" x2="25.3" y2="266.6" stroke="#555" stroke-width="0.8"/>
<text x="33.2" y="274.7" font-size="6.7" text-anchor="middle" font-weight="bold" fill="#111" stroke="#111" stroke-width="0.12" textLength="9" lengthAdjust="spacingAndGlyphs">140</text>
<text x="54.8" y="274.7" font-size="6.7" text-anchor="middle" font-weight="bold" fill="#111" stroke="#111" stroke-width="0.12" textLength="9" lengthAdjust="spacingAndGlyphs">150</text>
<text x="76.3" y="274.7" font-size="6.7" text-anchor="middle" font-weight="bold" fill="#111" stroke="#111" stroke-width="0.12" textLength="9" lengthAdjust="spacingAndGlyphs">160</text>
<text x="97.8" y="274.7" font-size="6.7" text-anchor="middle" font-weight="bold" fill="#111" stroke="#111" stroke-width="0.12" textLength="9" lengthAdjust="spacingAndGlyphs">170</text>
<text x="119.4" y="274.7" font-size="6.7" text-anchor="middle" font-weight="bold" fill="#111" stroke="#111" stroke-width="0.12" textLength="9" lengthAdjust="spacingAndGlyphs">180</text>
<text x="140.9" y="274.7" font-size="6.7" text-anchor="middle" font-weight="bold" fill="#111" stroke="#111" stroke-width="0.12" textLength="9" lengthAdjust="spacingAndGlyphs">190</text>
<text x="162.5" y="274.7" font-size="6.7" text-anchor="middle" font-weight="bold" fill="#111" stroke="#111" stroke-width="0.12" textLength="9" lengthAdjust="spacingAndGlyphs">200</text>
<text x="184.1" y="274.7" font-size="6.7" text-anchor="middle" font-weight="bold" fill="#111" stroke="#111" stroke-width="0.12" textLength="9" lengthAdjust="spacingAndGlyphs">210</text>
<text x="205.6" y="274.7" font-size="6.7" text-anchor="middle" font-weight="bold" fill="#111" stroke="#111" stroke-width="0.12" textLength="9" lengthAdjust="spacingAndGlyphs">220</text>
<text x="227.1" y="274.7" font-size="6.7" text-anchor="middle" font-weight="bold" fill="#111" stroke="#111" stroke-width="0.12" textLength="9" lengthAdjust="spacingAndGlyphs">230</text>
<text x="248.7" y="274.7" font-size="6.7" text-anchor="middle" font-weight="bold" fill="#111" stroke="#111" stroke-width="0.12" textLength="9" lengthAdjust="spacingAndGlyphs">240</text>
<text x="270.2" y="274.7" font-size="6.7" text-anchor="middle" font-weight="bold" fill="#111" stroke="#111" stroke-width="0.12" textLength="9" lengthAdjust="spacingAndGlyphs">250</text>
<text x="291.8" y="274.7" font-size="6.7" text-anchor="middle" font-weight="bold" fill="#111" stroke="#111" stroke-width="0.12" textLength="9" lengthAdjust="spacingAndGlyphs">260</text>
<text x="313.3" y="274.7" font-size="6.7" text-anchor="middle" font-weight="bold" fill="#111" stroke="#111" stroke-width="0.12" textLength="9" lengthAdjust="spacingAndGlyphs">270</text>
<text x="334.9" y="274.7" font-size="6.7" text-anchor="middle" font-weight="bold" fill="#111" stroke="#111" stroke-width="0.12" textLength="9" lengthAdjust="spacingAndGlyphs">280</text>
<text x="356.4" y="274.7" font-size="6.7" text-anchor="middle" font-weight="bold" fill="#111" stroke="#111" stroke-width="0.12" textLength="9" lengthAdjust="spacingAndGlyphs">290</text>
<text x="378.0" y="274.7" font-size="6.7" text-anchor="middle" font-weight="bold" fill="#111" stroke="#111" stroke-width="0.12" textLength="9" lengthAdjust="spacingAndGlyphs">300</text>
<text transform="translate(5.8,238.5) rotate(-90)" font-size="6.5" text-anchor="middle" font-weight="bold" fill="#111" textLength="41.5" lengthAdjust="spacingAndGlyphs">Intensity [Counts]</text>
<line x1="57" y1="264" x2="57" y2="267.2" stroke="#777" stroke-width="0.9"/>
<line x1="117.4" y1="251" x2="117.4" y2="267.2" stroke="#555" stroke-width="0.9"/>
<line x1="178" y1="248" x2="178" y2="267.2" stroke="#3a7fa0" stroke-width="0.9"/>
<line x1="202.8" y1="212.3" x2="202.8" y2="267.2" stroke="#6b6450" stroke-width="0.9"/>
<line x1="216.7" y1="239" x2="216.7" y2="267.2" stroke="#2f7da3" stroke-width="0.9"/>
<line x1="219.5" y1="244" x2="219.5" y2="267.2" stroke="#5aa6c8" stroke-width="0.9"/>
<line x1="242" y1="259" x2="242" y2="267.2" stroke="#666" stroke-width="0.9"/>
<line x1="302" y1="246" x2="302" y2="267.2" stroke="#1e6fa0" stroke-width="0.9"/>
<line x1="305" y1="258" x2="305" y2="267.2" stroke="#5a7f8c" stroke-width="0.9"/>
<line x1="328" y1="263" x2="328" y2="267.2" stroke="#888" stroke-width="0.9"/>
<line x1="341.6" y1="263" x2="341.6" y2="267.2" stroke="#3c9a4a" stroke-width="0.9"/>
<line x1="79.5" y1="264" x2="79.5" y2="267.2" stroke="#6aa" stroke-width="0.9"/>
<line x1="89" y1="265" x2="89" y2="267.2" stroke="#999" stroke-width="0.9"/>
<line x1="166" y1="263.5" x2="166" y2="267.2" stroke="#6aa" stroke-width="0.9"/>
<text x="46.0" y="262.6" font-size="6.6" text-anchor="middle" font-weight="bold" fill="#111" stroke="#111" stroke-width="0.12" textLength="23" lengthAdjust="spacingAndGlyphs">151.1111</text>
<text x="78.6" y="263.8" font-size="6.6" text-anchor="middle" font-weight="bold" fill="#111" stroke="#111" stroke-width="0.12" textLength="23" lengthAdjust="spacingAndGlyphs">161.1316</text>
<text x="103.6" y="263.2" font-size="6.6" text-anchor="middle" font-weight="bold" fill="#111" stroke="#111" stroke-width="0.12" textLength="23" lengthAdjust="spacingAndGlyphs">167.1058</text>
<text x="117.4" y="250.2" font-size="6.6" text-anchor="middle" font-weight="bold" fill="#111" stroke="#111" stroke-width="0.12" textLength="23" lengthAdjust="spacingAndGlyphs">179.1427</text>
<text x="131.4" y="262.2" font-size="6.6" text-anchor="middle" font-weight="bold" fill="#111" stroke="#111" stroke-width="0.12" textLength="23" lengthAdjust="spacingAndGlyphs">180.1456</text>
<text x="165.0" y="261.2" font-size="6.6" text-anchor="middle" font-weight="bold" fill="#111" stroke="#111" stroke-width="0.12" textLength="23" lengthAdjust="spacingAndGlyphs">201.1269</text>
<text x="178.0" y="246.6" font-size="6.6" text-anchor="middle" font-weight="bold" fill="#111" stroke="#111" stroke-width="0.12" textLength="23" lengthAdjust="spacingAndGlyphs">207.1376</text>
<text x="203.0" y="212.2" font-size="6.6" text-anchor="middle" font-weight="bold" fill="#111" stroke="#111" stroke-width="0.12" textLength="23" lengthAdjust="spacingAndGlyphs">219.1377</text>
<text x="217.0" y="238.8" font-size="6.6" text-anchor="middle" font-weight="bold" fill="#111" stroke="#111" stroke-width="0.12" textLength="23" lengthAdjust="spacingAndGlyphs">225.1484</text>
<text x="242.6" y="258.2" font-size="6.6" text-anchor="middle" font-weight="bold" fill="#111" stroke="#111" stroke-width="0.12" textLength="23" lengthAdjust="spacingAndGlyphs">237.1484</text>
<text x="270.6" y="264.8" font-size="6.6" text-anchor="middle" font-weight="bold" fill="#111" stroke="#111" stroke-width="0.12" textLength="23" lengthAdjust="spacingAndGlyphs">250.1809</text>
<text x="302.6" y="245.8" font-size="6.6" text-anchor="middle" font-weight="bold" fill="#111" stroke="#111" stroke-width="0.12" textLength="23" lengthAdjust="spacingAndGlyphs">265.1425</text>
<text x="317.0" y="258.2" font-size="6.6" text-anchor="middle" font-weight="bold" fill="#111" stroke="#111" stroke-width="0.12" textLength="23" lengthAdjust="spacingAndGlyphs">266.1600</text>
<text x="341.4" y="262.2" font-size="6.6" text-anchor="middle" font-weight="bold" fill="#111" stroke="#111" stroke-width="0.12" textLength="23" lengthAdjust="spacingAndGlyphs">283.1554</text>
<text x="370.7" y="263.2" font-size="6.6" text-anchor="middle" font-weight="bold" fill="#111" stroke="#111" stroke-width="0.12" textLength="23" lengthAdjust="spacingAndGlyphs">291.1982</text>
<line x1="0" y1="275.2" x2="400" y2="275.2" stroke="#999" stroke-width="0.8"/>
<text x="1.0" y="281.6" font-size="6.8" text-anchor="start" font-weight="bold" fill="#111" stroke="#111" stroke-width="0.12" textLength="130" lengthAdjust="spacingAndGlyphs">Component name: dihydroartemisinin+O-H2-O</text>
<text x="220.0" y="281.7" font-size="6.8" text-anchor="start" font-weight="bold" fill="#111" stroke="#111" stroke-width="0.12" textLength="162.5" lengthAdjust="spacingAndGlyphs">Channel name: High energy : Time 4.4127 +/- 0.0468 minutes</text>
<text x="392.4" y="284.3" font-size="3.4" text-anchor="middle" font-weight="bold" fill="#444" stroke="#444" stroke-width="0.1" textLength="8" lengthAdjust="spacingAndGlyphs">3.86e7</text>
<rect x="31.4" y="312.7" width="45.4" height="11.5" fill="#acdbea"/>
<text x="32.3" y="318.0" font-size="6.8" text-anchor="start" font-weight="bold" fill="#0a1620" stroke="#0a1620" stroke-width="0.28" textLength="23.5" lengthAdjust="spacingAndGlyphs">161.1315</text>
<text x="32.3" y="323.9" font-size="6.8" text-anchor="start" font-weight="bold" fill="#0a1620" stroke="#0a1620" stroke-width="0.28" textLength="43.199999999999996" lengthAdjust="spacingAndGlyphs">Mass error: -1....</text>
<rect x="94.7" y="312.1" width="45.999999999999986" height="11.5" fill="#acdbea"/>
<text x="95.6" y="317.4" font-size="6.8" text-anchor="start" font-weight="bold" fill="#0a1620" stroke="#0a1620" stroke-width="0.28" textLength="23.5" lengthAdjust="spacingAndGlyphs">179.1425</text>
<text x="95.6" y="323.3" font-size="6.8" text-anchor="start" font-weight="bold" fill="#0a1620" stroke="#0a1620" stroke-width="0.28" textLength="43.79999999999998" lengthAdjust="spacingAndGlyphs">Mass error: -0....</text>
<rect x="180.7" y="310.8" width="47.30000000000001" height="11.399999999999977" fill="#acdbea"/>
<text x="181.6" y="316.1" font-size="6.8" text-anchor="start" font-weight="bold" fill="#0a1620" stroke="#0a1620" stroke-width="0.28" textLength="23.5" lengthAdjust="spacingAndGlyphs">207.1378</text>
<text x="181.6" y="322.0" font-size="6.8" text-anchor="start" font-weight="bold" fill="#0a1620" stroke="#0a1620" stroke-width="0.28" textLength="45.10000000000001" lengthAdjust="spacingAndGlyphs">Mass error: -0....</text>
<rect x="253.2" y="320" width="48.0" height="12" fill="#acdbea"/>
<text x="254.1" y="325.3" font-size="6.8" text-anchor="start" font-weight="bold" fill="#0a1620" stroke="#0a1620" stroke-width="0.28" textLength="23.5" lengthAdjust="spacingAndGlyphs">265.1416</text>
<text x="254.1" y="331.2" font-size="6.8" text-anchor="start" font-weight="bold" fill="#0a1620" stroke="#0a1620" stroke-width="0.28" textLength="45.8" lengthAdjust="spacingAndGlyphs">Mass error: -1....</text>
<line x1="25.1" y1="288" x2="25.1" y2="338.3" stroke="#555" stroke-width="0.9"/>
<line x1="25.1" y1="338.5" x2="392" y2="338.5" stroke="#9a8a8e" stroke-width="0.9"/>
<text x="22.6" y="301.2" font-size="6.5" text-anchor="end" font-weight="bold" fill="#111" stroke="#111" stroke-width="0.05" textLength="8.9" lengthAdjust="spacingAndGlyphs">3e7</text>
<line x1="23.8" y1="299.1" x2="25.1" y2="299.1" stroke="#555" stroke-width="0.8"/>
<text x="22.6" y="314.4" font-size="6.5" text-anchor="end" font-weight="bold" fill="#111" stroke="#111" stroke-width="0.05" textLength="8.9" lengthAdjust="spacingAndGlyphs">2e7</text>
<line x1="23.8" y1="312.3" x2="25.1" y2="312.3" stroke="#555" stroke-width="0.8"/>
<text x="22.6" y="327.0" font-size="6.5" text-anchor="end" font-weight="bold" fill="#111" stroke="#111" stroke-width="0.05" textLength="8.9" lengthAdjust="spacingAndGlyphs">1e7</text>
<line x1="23.8" y1="324.9" x2="25.1" y2="324.9" stroke="#555" stroke-width="0.8"/>
<text x="22.6" y="340.0" font-size="6.5" text-anchor="end" font-weight="bold" fill="#111" stroke="#111" stroke-width="0.05" textLength="3.3" lengthAdjust="spacingAndGlyphs">0</text>
<line x1="23.8" y1="337.9" x2="25.1" y2="337.9" stroke="#555" stroke-width="0.8"/>
<line x1="33.2" y1="338.3" x2="33.2" y2="340" stroke="#888" stroke-width="0.8"/>
<text x="33.2" y="346.1" font-size="6.7" text-anchor="middle" font-weight="bold" fill="#111" stroke="#111" stroke-width="0.12" textLength="9" lengthAdjust="spacingAndGlyphs">140</text>
<line x1="54.8" y1="338.3" x2="54.8" y2="340" stroke="#888" stroke-width="0.8"/>
<text x="54.8" y="346.1" font-size="6.7" text-anchor="middle" font-weight="bold" fill="#111" stroke="#111" stroke-width="0.12" textLength="9" lengthAdjust="spacingAndGlyphs">150</text>
<line x1="76.3" y1="338.3" x2="76.3" y2="340" stroke="#888" stroke-width="0.8"/>
<text x="76.3" y="346.1" font-size="6.7" text-anchor="middle" font-weight="bold" fill="#111" stroke="#111" stroke-width="0.12" textLength="9" lengthAdjust="spacingAndGlyphs">160</text>
<line x1="97.8" y1="338.3" x2="97.8" y2="340" stroke="#888" stroke-width="0.8"/>
<text x="97.8" y="346.1" font-size="6.7" text-anchor="middle" font-weight="bold" fill="#111" stroke="#111" stroke-width="0.12" textLength="9" lengthAdjust="spacingAndGlyphs">170</text>
<line x1="119.4" y1="338.3" x2="119.4" y2="340" stroke="#888" stroke-width="0.8"/>
<text x="119.4" y="346.1" font-size="6.7" text-anchor="middle" font-weight="bold" fill="#111" stroke="#111" stroke-width="0.12" textLength="9" lengthAdjust="spacingAndGlyphs">180</text>
<line x1="140.9" y1="338.3" x2="140.9" y2="340" stroke="#888" stroke-width="0.8"/>
<text x="140.9" y="346.1" font-size="6.7" text-anchor="middle" font-weight="bold" fill="#111" stroke="#111" stroke-width="0.12" textLength="9" lengthAdjust="spacingAndGlyphs">190</text>
<line x1="162.5" y1="338.3" x2="162.5" y2="340" stroke="#888" stroke-width="0.8"/>
<text x="162.5" y="346.1" font-size="6.7" text-anchor="middle" font-weight="bold" fill="#111" stroke="#111" stroke-width="0.12" textLength="9" lengthAdjust="spacingAndGlyphs">200</text>
<line x1="184.1" y1="338.3" x2="184.1" y2="340" stroke="#888" stroke-width="0.8"/>
<text x="184.1" y="346.1" font-size="6.7" text-anchor="middle" font-weight="bold" fill="#111" stroke="#111" stroke-width="0.12" textLength="9" lengthAdjust="spacingAndGlyphs">210</text>
<line x1="205.6" y1="338.3" x2="205.6" y2="340" stroke="#888" stroke-width="0.8"/>
<text x="205.6" y="346.1" font-size="6.7" text-anchor="middle" font-weight="bold" fill="#111" stroke="#111" stroke-width="0.12" textLength="9" lengthAdjust="spacingAndGlyphs">220</text>
<line x1="227.1" y1="338.3" x2="227.1" y2="340" stroke="#888" stroke-width="0.8"/>
<text x="227.1" y="346.1" font-size="6.7" text-anchor="middle" font-weight="bold" fill="#111" stroke="#111" stroke-width="0.12" textLength="9" lengthAdjust="spacingAndGlyphs">230</text>
<line x1="248.7" y1="338.3" x2="248.7" y2="340" stroke="#888" stroke-width="0.8"/>
<text x="248.7" y="346.1" font-size="6.7" text-anchor="middle" font-weight="bold" fill="#111" stroke="#111" stroke-width="0.12" textLength="9" lengthAdjust="spacingAndGlyphs">240</text>
<line x1="270.2" y1="338.3" x2="270.2" y2="340" stroke="#888" stroke-width="0.8"/>
<text x="270.2" y="346.1" font-size="6.7" text-anchor="middle" font-weight="bold" fill="#111" stroke="#111" stroke-width="0.12" textLength="9" lengthAdjust="spacingAndGlyphs">250</text>
<line x1="291.8" y1="338.3" x2="291.8" y2="340" stroke="#888" stroke-width="0.8"/>
<text x="291.8" y="346.1" font-size="6.7" text-anchor="middle" font-weight="bold" fill="#111" stroke="#111" stroke-width="0.12" textLength="9" lengthAdjust="spacingAndGlyphs">260</text>
<line x1="313.3" y1="338.3" x2="313.3" y2="340" stroke="#888" stroke-width="0.8"/>
<text x="313.3" y="346.1" font-size="6.7" text-anchor="middle" font-weight="bold" fill="#111" stroke="#111" stroke-width="0.12" textLength="9" lengthAdjust="spacingAndGlyphs">270</text>
<line x1="334.9" y1="338.3" x2="334.9" y2="340" stroke="#888" stroke-width="0.8"/>
<text x="334.9" y="346.1" font-size="6.7" text-anchor="middle" font-weight="bold" fill="#111" stroke="#111" stroke-width="0.12" textLength="9" lengthAdjust="spacingAndGlyphs">280</text>
<line x1="356.4" y1="338.3" x2="356.4" y2="340" stroke="#888" stroke-width="0.8"/>
<text x="356.4" y="346.1" font-size="6.7" text-anchor="middle" font-weight="bold" fill="#111" stroke="#111" stroke-width="0.12" textLength="9" lengthAdjust="spacingAndGlyphs">290</text>
<line x1="378.0" y1="338.3" x2="378.0" y2="340" stroke="#888" stroke-width="0.8"/>
<text x="378.0" y="346.1" font-size="6.7" text-anchor="middle" font-weight="bold" fill="#111" stroke="#111" stroke-width="0.12" textLength="9" lengthAdjust="spacingAndGlyphs">300</text>
<line x1="28.9" y1="338.3" x2="28.9" y2="339.3" stroke="#bbb" stroke-width="0.5"/>
<line x1="33.2" y1="338.3" x2="33.2" y2="339.3" stroke="#bbb" stroke-width="0.5"/>
<line x1="37.5" y1="338.3" x2="37.5" y2="339.3" stroke="#bbb" stroke-width="0.5"/>
<line x1="41.8" y1="338.3" x2="41.8" y2="339.3" stroke="#bbb" stroke-width="0.5"/>
<line x1="46.1" y1="338.3" x2="46.1" y2="339.3" stroke="#bbb" stroke-width="0.5"/>
<line x1="50.4" y1="338.3" x2="50.4" y2="339.3" stroke="#bbb" stroke-width="0.5"/>
<line x1="54.8" y1="338.3" x2="54.8" y2="339.3" stroke="#bbb" stroke-width="0.5"/>
<line x1="59.1" y1="338.3" x2="59.1" y2="339.3" stroke="#bbb" stroke-width="0.5"/>
<line x1="63.4" y1="338.3" x2="63.4" y2="339.3" stroke="#bbb" stroke-width="0.5"/>
<line x1="67.7" y1="338.3" x2="67.7" y2="339.3" stroke="#bbb" stroke-width="0.5"/>
<line x1="72.0" y1="338.3" x2="72.0" y2="339.3" stroke="#bbb" stroke-width="0.5"/>
<line x1="76.3" y1="338.3" x2="76.3" y2="339.3" stroke="#bbb" stroke-width="0.5"/>
<line x1="80.6" y1="338.3" x2="80.6" y2="339.3" stroke="#bbb" stroke-width="0.5"/>
<line x1="84.9" y1="338.3" x2="84.9" y2="339.3" stroke="#bbb" stroke-width="0.5"/>
<line x1="89.2" y1="338.3" x2="89.2" y2="339.3" stroke="#bbb" stroke-width="0.5"/>
<line x1="93.5" y1="338.3" x2="93.5" y2="339.3" stroke="#bbb" stroke-width="0.5"/>
<line x1="97.8" y1="338.3" x2="97.8" y2="339.3" stroke="#bbb" stroke-width="0.5"/>
<line x1="102.2" y1="338.3" x2="102.2" y2="339.3" stroke="#bbb" stroke-width="0.5"/>
<line x1="106.5" y1="338.3" x2="106.5" y2="339.3" stroke="#bbb" stroke-width="0.5"/>
<line x1="110.8" y1="338.3" x2="110.8" y2="339.3" stroke="#bbb" stroke-width="0.5"/>
<line x1="115.1" y1="338.3" x2="115.1" y2="339.3" stroke="#bbb" stroke-width="0.5"/>
<line x1="119.4" y1="338.3" x2="119.4" y2="339.3" stroke="#bbb" stroke-width="0.5"/>
<line x1="123.7" y1="338.3" x2="123.7" y2="339.3" stroke="#bbb" stroke-width="0.5"/>
<line x1="128.0" y1="338.3" x2="128.0" y2="339.3" stroke="#bbb" stroke-width="0.5"/>
<line x1="132.3" y1="338.3" x2="132.3" y2="339.3" stroke="#bbb" stroke-width="0.5"/>
<line x1="136.6" y1="338.3" x2="136.6" y2="339.3" stroke="#bbb" stroke-width="0.5"/>
<line x1="140.9" y1="338.3" x2="140.9" y2="339.3" stroke="#bbb" stroke-width="0.5"/>
<line x1="145.3" y1="338.3" x2="145.3" y2="339.3" stroke="#bbb" stroke-width="0.5"/>
<line x1="149.6" y1="338.3" x2="149.6" y2="339.3" stroke="#bbb" stroke-width="0.5"/>
<line x1="153.9" y1="338.3" x2="153.9" y2="339.3" stroke="#bbb" stroke-width="0.5"/>
<line x1="158.2" y1="338.3" x2="158.2" y2="339.3" stroke="#bbb" stroke-width="0.5"/>
<line x1="162.5" y1="338.3" x2="162.5" y2="339.3" stroke="#bbb" stroke-width="0.5"/>
<line x1="166.8" y1="338.3" x2="166.8" y2="339.3" stroke="#bbb" stroke-width="0.5"/>
<line x1="171.1" y1="338.3" x2="171.1" y2="339.3" stroke="#bbb" stroke-width="0.5"/>
<line x1="175.4" y1="338.3" x2="175.4" y2="339.3" stroke="#bbb" stroke-width="0.5"/>
<line x1="179.7" y1="338.3" x2="179.7" y2="339.3" stroke="#bbb" stroke-width="0.5"/>
<line x1="184.1" y1="338.3" x2="184.1" y2="339.3" stroke="#bbb" stroke-width="0.5"/>
<line x1="188.4" y1="338.3" x2="188.4" y2="339.3" stroke="#bbb" stroke-width="0.5"/>
<line x1="192.7" y1="338.3" x2="192.7" y2="339.3" stroke="#bbb" stroke-width="0.5"/>
<line x1="197.0" y1="338.3" x2="197.0" y2="339.3" stroke="#bbb" stroke-width="0.5"/>
<line x1="201.3" y1="338.3" x2="201.3" y2="339.3" stroke="#bbb" stroke-width="0.5"/>
<line x1="205.6" y1="338.3" x2="205.6" y2="339.3" stroke="#bbb" stroke-width="0.5"/>
<line x1="209.9" y1="338.3" x2="209.9" y2="339.3" stroke="#bbb" stroke-width="0.5"/>
<line x1="214.2" y1="338.3" x2="214.2" y2="339.3" stroke="#bbb" stroke-width="0.5"/>
<line x1="218.5" y1="338.3" x2="218.5" y2="339.3" stroke="#bbb" stroke-width="0.5"/>
<line x1="222.8" y1="338.3" x2="222.8" y2="339.3" stroke="#bbb" stroke-width="0.5"/>
<line x1="227.1" y1="338.3" x2="227.1" y2="339.3" stroke="#bbb" stroke-width="0.5"/>
<line x1="231.5" y1="338.3" x2="231.5" y2="339.3" stroke="#bbb" stroke-width="0.5"/>
<line x1="235.8" y1="338.3" x2="235.8" y2="339.3" stroke="#bbb" stroke-width="0.5"/>
<line x1="240.1" y1="338.3" x2="240.1" y2="339.3" stroke="#bbb" stroke-width="0.5"/>
<line x1="244.4" y1="338.3" x2="244.4" y2="339.3" stroke="#bbb" stroke-width="0.5"/>
<line x1="248.7" y1="338.3" x2="248.7" y2="339.3" stroke="#bbb" stroke-width="0.5"/>
<line x1="253.0" y1="338.3" x2="253.0" y2="339.3" stroke="#bbb" stroke-width="0.5"/>
<line x1="257.3" y1="338.3" x2="257.3" y2="339.3" stroke="#bbb" stroke-width="0.5"/>
<line x1="261.6" y1="338.3" x2="261.6" y2="339.3" stroke="#bbb" stroke-width="0.5"/>
<line x1="265.9" y1="338.3" x2="265.9" y2="339.3" stroke="#bbb" stroke-width="0.5"/>
<line x1="270.2" y1="338.3" x2="270.2" y2="339.3" stroke="#bbb" stroke-width="0.5"/>
<line x1="274.6" y1="338.3" x2="274.6" y2="339.3" stroke="#bbb" stroke-width="0.5"/>
<line x1="278.9" y1="338.3" x2="278.9" y2="339.3" stroke="#bbb" stroke-width="0.5"/>
<line x1="283.2" y1="338.3" x2="283.2" y2="339.3" stroke="#bbb" stroke-width="0.5"/>
<line x1="287.5" y1="338.3" x2="287.5" y2="339.3" stroke="#bbb" stroke-width="0.5"/>
<line x1="291.8" y1="338.3" x2="291.8" y2="339.3" stroke="#bbb" stroke-width="0.5"/>
<line x1="296.1" y1="338.3" x2="296.1" y2="339.3" stroke="#bbb" stroke-width="0.5"/>
<line x1="300.4" y1="338.3" x2="300.4" y2="339.3" stroke="#bbb" stroke-width="0.5"/>
<line x1="304.7" y1="338.3" x2="304.7" y2="339.3" stroke="#bbb" stroke-width="0.5"/>
<line x1="309.0" y1="338.3" x2="309.0" y2="339.3" stroke="#bbb" stroke-width="0.5"/>
<line x1="313.3" y1="338.3" x2="313.3" y2="339.3" stroke="#bbb" stroke-width="0.5"/>
<line x1="317.7" y1="338.3" x2="317.7" y2="339.3" stroke="#bbb" stroke-width="0.5"/>
<line x1="322.0" y1="338.3" x2="322.0" y2="339.3" stroke="#bbb" stroke-width="0.5"/>
<line x1="326.3" y1="338.3" x2="326.3" y2="339.3" stroke="#bbb" stroke-width="0.5"/>
<line x1="330.6" y1="338.3" x2="330.6" y2="339.3" stroke="#bbb" stroke-width="0.5"/>
<line x1="334.9" y1="338.3" x2="334.9" y2="339.3" stroke="#bbb" stroke-width="0.5"/>
<line x1="339.2" y1="338.3" x2="339.2" y2="339.3" stroke="#bbb" stroke-width="0.5"/>
<line x1="343.5" y1="338.3" x2="343.5" y2="339.3" stroke="#bbb" stroke-width="0.5"/>
<line x1="347.8" y1="338.3" x2="347.8" y2="339.3" stroke="#bbb" stroke-width="0.5"/>
<line x1="352.1" y1="338.3" x2="352.1" y2="339.3" stroke="#bbb" stroke-width="0.5"/>
<line x1="356.4" y1="338.3" x2="356.4" y2="339.3" stroke="#bbb" stroke-width="0.5"/>
<line x1="360.8" y1="338.3" x2="360.8" y2="339.3" stroke="#bbb" stroke-width="0.5"/>
<line x1="365.1" y1="338.3" x2="365.1" y2="339.3" stroke="#bbb" stroke-width="0.5"/>
<line x1="369.4" y1="338.3" x2="369.4" y2="339.3" stroke="#bbb" stroke-width="0.5"/>
<line x1="373.7" y1="338.3" x2="373.7" y2="339.3" stroke="#bbb" stroke-width="0.5"/>
<line x1="378.0" y1="338.3" x2="378.0" y2="339.3" stroke="#bbb" stroke-width="0.5"/>
<line x1="382.3" y1="338.3" x2="382.3" y2="339.3" stroke="#bbb" stroke-width="0.5"/>
<line x1="386.6" y1="338.3" x2="386.6" y2="339.3" stroke="#bbb" stroke-width="0.5"/>
<line x1="390.9" y1="338.3" x2="390.9" y2="339.3" stroke="#bbb" stroke-width="0.5"/>
<text transform="translate(5.4,313) rotate(-90)" font-size="6.5" text-anchor="middle" font-weight="bold" fill="#111" textLength="40.5" lengthAdjust="spacingAndGlyphs">Intensity [Counts]</text>
<text x="209.0" y="352.6" font-size="6.8" text-anchor="middle" font-weight="bold" fill="#111" stroke="#111" stroke-width="0.12" textLength="55.3" lengthAdjust="spacingAndGlyphs">Observed mass [m/z]</text>
<line x1="38.8" y1="329.6" x2="38.8" y2="338.3" stroke="#d83434" stroke-width="0.75"/>
<line x1="38.8" y1="329.6" x2="39.8" y2="329.6" stroke="#e88080" stroke-width="0.5"/>
<line x1="78.2" y1="325.3" x2="78.2" y2="338.3" stroke="#d83434" stroke-width="0.75"/>
<line x1="78.2" y1="325.3" x2="79.2" y2="325.3" stroke="#e88080" stroke-width="0.5"/>
<line x1="82.2" y1="332.3" x2="82.2" y2="338.3" stroke="#d83434" stroke-width="0.75"/>
<line x1="82.2" y1="332.3" x2="83.2" y2="332.3" stroke="#e88080" stroke-width="0.5"/>
<line x1="91.6" y1="331.4" x2="91.6" y2="338.3" stroke="#d83434" stroke-width="0.75"/>
<line x1="91.6" y1="331.4" x2="92.6" y2="331.4" stroke="#e88080" stroke-width="0.5"/>
<line x1="116.9" y1="323.5" x2="116.9" y2="338.3" stroke="#d83434" stroke-width="0.75"/>
<line x1="116.9" y1="323.5" x2="117.9" y2="323.5" stroke="#e88080" stroke-width="0.5"/>
<line x1="137.9" y1="334.9" x2="137.9" y2="338.3" stroke="#d83434" stroke-width="0.75"/>
<line x1="137.9" y1="334.9" x2="138.9" y2="334.9" stroke="#e88080" stroke-width="0.5"/>
<line x1="209.3" y1="332" x2="209.3" y2="338.3" stroke="#d83434" stroke-width="0.75"/>
<line x1="209.3" y1="332" x2="210.3" y2="332" stroke="#e88080" stroke-width="0.5"/>
<line x1="216.3" y1="326.8" x2="216.3" y2="338.3" stroke="#d83434" stroke-width="0.75"/>
<line x1="216.3" y1="326.8" x2="217.3" y2="326.8" stroke="#e88080" stroke-width="0.5"/>
<line x1="325" y1="334.2" x2="325" y2="338.3" stroke="#d83434" stroke-width="0.75"/>
<line x1="325" y1="334.2" x2="326" y2="334.2" stroke="#e88080" stroke-width="0.5"/>
<line x1="328.5" y1="322.7" x2="328.5" y2="338.3" stroke="#d83434" stroke-width="0.75"/>
<line x1="328.5" y1="322.7" x2="329.5" y2="322.7" stroke="#e88080" stroke-width="0.5"/>
<line x1="358" y1="335.8" x2="358" y2="338.3" stroke="#d83434" stroke-width="0.75"/>
<line x1="358" y1="335.8" x2="359" y2="335.8" stroke="#e88080" stroke-width="0.5"/>
<line x1="80" y1="333.5" x2="80" y2="338.3" stroke="#e87a7a" stroke-width="0.6"/>
<line x1="86" y1="334.5" x2="86" y2="338.3" stroke="#e87a7a" stroke-width="0.6"/>
<line x1="90.4" y1="333.5" x2="90.4" y2="338.3" stroke="#e87a7a" stroke-width="0.6"/>
<line x1="60" y1="336" x2="60" y2="338.3" stroke="#e87a7a" stroke-width="0.6"/>
<line x1="70" y1="335.5" x2="70" y2="338.3" stroke="#e87a7a" stroke-width="0.6"/>
<line x1="101" y1="336" x2="101" y2="338.3" stroke="#e87a7a" stroke-width="0.6"/>
<line x1="108" y1="335.8" x2="108" y2="338.3" stroke="#e87a7a" stroke-width="0.6"/>
<line x1="126" y1="336.3" x2="126" y2="338.3" stroke="#e87a7a" stroke-width="0.6"/>
<line x1="142.3" y1="335.2" x2="142.3" y2="338.3" stroke="#e87a7a" stroke-width="0.6"/>
<line x1="150" y1="336.5" x2="150" y2="338.3" stroke="#e87a7a" stroke-width="0.6"/>
<line x1="186" y1="336" x2="186" y2="338.3" stroke="#e87a7a" stroke-width="0.6"/>
<line x1="196" y1="336.3" x2="196" y2="338.3" stroke="#e87a7a" stroke-width="0.6"/>
<line x1="232" y1="336.5" x2="232" y2="338.3" stroke="#e87a7a" stroke-width="0.6"/>
<line x1="268" y1="336.5" x2="268" y2="338.3" stroke="#e87a7a" stroke-width="0.6"/>
<line x1="281" y1="336.3" x2="281" y2="338.3" stroke="#e87a7a" stroke-width="0.6"/>
<line x1="297" y1="336" x2="297" y2="338.3" stroke="#e87a7a" stroke-width="0.6"/>
<line x1="305" y1="335.5" x2="305" y2="338.3" stroke="#e87a7a" stroke-width="0.6"/>
<line x1="309" y1="336.2" x2="309" y2="338.3" stroke="#e87a7a" stroke-width="0.6"/>
<line x1="312" y1="336" x2="312" y2="338.3" stroke="#e87a7a" stroke-width="0.6"/>
<line x1="315" y1="335.8" x2="315" y2="338.3" stroke="#e87a7a" stroke-width="0.6"/>
<line x1="318" y1="336.2" x2="318" y2="338.3" stroke="#e87a7a" stroke-width="0.6"/>
<line x1="321" y1="335.6" x2="321" y2="338.3" stroke="#e87a7a" stroke-width="0.6"/>
<line x1="334" y1="336" x2="334" y2="338.3" stroke="#e87a7a" stroke-width="0.6"/>
<line x1="337" y1="336.2" x2="337" y2="338.3" stroke="#e87a7a" stroke-width="0.6"/>
<line x1="345" y1="336.6" x2="345" y2="338.3" stroke="#e87a7a" stroke-width="0.6"/>
<line x1="368" y1="336.6" x2="368" y2="338.3" stroke="#e87a7a" stroke-width="0.6"/>
<line x1="177.4" y1="303.7" x2="177.4" y2="338.3" stroke="#f07c7c" stroke-width="0.9"/>
<line x1="177.4" y1="303.7" x2="179.2" y2="303.7" stroke="#f4a0a0" stroke-width="0.7"/>
<line x1="179.0" y1="303.7" x2="179.0" y2="338.3" stroke="#f8c4c4" stroke-width="0.5"/>
<line x1="302.3" y1="291.1" x2="302.3" y2="338.3" stroke="#ec6a6a" stroke-width="0.9"/>
<line x1="302.3" y1="291.1" x2="303.8" y2="291.1" stroke="#f0a0a0" stroke-width="0.7"/>
<line x1="303.6" y1="291.1" x2="303.6" y2="338.3" stroke="#f8c8c8" stroke-width="0.5"/>
<text x="54.2" y="332.4" font-size="6.7" text-anchor="middle" font-weight="bold" fill="#111" stroke="#111" stroke-width="0.12" textLength="23" lengthAdjust="spacingAndGlyphs">143.0849</text>
<text x="103.2" y="330.1" font-size="6.7" text-anchor="middle" font-weight="bold" fill="#111" stroke="#111" stroke-width="0.12" textLength="23" lengthAdjust="spacingAndGlyphs">167.1059</text>
<text x="138.8" y="331.4" font-size="6.7" text-anchor="middle" font-weight="bold" fill="#111" stroke="#111" stroke-width="0.12" textLength="23" lengthAdjust="spacingAndGlyphs">189.1267</text>
<text x="164.3" y="325.0" font-size="6.7" text-anchor="middle" font-weight="bold" fill="#111" stroke="#111" stroke-width="0.12" textLength="23" lengthAdjust="spacingAndGlyphs">201.1269</text>
<text x="198.0" y="329.2" font-size="6.7" text-anchor="middle" font-weight="bold" fill="#111" stroke="#111" stroke-width="0.12" textLength="23" lengthAdjust="spacingAndGlyphs">222.1485</text>
<text x="230.3" y="333.0" font-size="6.7" text-anchor="middle" font-weight="bold" fill="#111" stroke="#111" stroke-width="0.12" textLength="23" lengthAdjust="spacingAndGlyphs">225.1489</text>
<text x="329.0" y="320.8" font-size="6.7" text-anchor="middle" font-weight="bold" fill="#111" stroke="#111" stroke-width="0.12" textLength="23" lengthAdjust="spacingAndGlyphs">277.1406</text>
<text x="359.1" y="334.2" font-size="6.7" text-anchor="middle" font-weight="bold" fill="#111" stroke="#111" stroke-width="0.12" textLength="23" lengthAdjust="spacingAndGlyphs">291.2045</text>
<path d="M58.3,296.3 L56.7,299.1 L53.5,299.1 L51.9,296.3 L53.5,293.5 L56.7,293.5 Z" fill="none" stroke="#666" stroke-width="0.55"/>
<path d="M53.0,300.5 L51.4,303.2 L48.4,303.2 L46.8,300.5 L48.3,297.8 L51.4,297.8 Z" fill="none" stroke="#666" stroke-width="0.55"/>
<path d="M48.7,292.7 L51.9,294.9" stroke="#333" stroke-width="1.1"/>
<path d="M48.2,303.3 L47.8,305.9" stroke="#333" stroke-width="1.0"/>
<path d="M55.3,293.2 L56.1,291.3 M52.7,302.7 L56.1,304.9 L60.3,304.3" fill="none" stroke="#888" stroke-width="0.5"/>
<path d="M121.0,295.4 L119.4,298.2 L116.2,298.2 L114.6,295.4 L116.2,292.6 L119.4,292.6 Z" fill="none" stroke="#666" stroke-width="0.55"/>
<path d="M115.7,299.6 L114.2,302.3 L111.1,302.3 L109.5,299.6 L111.1,296.9 L114.2,296.9 Z" fill="none" stroke="#666" stroke-width="0.55"/>
<path d="M111.4,291.8 L114.6,294.0" stroke="#333" stroke-width="1.1"/>
<path d="M110.9,302.4 L110.5,305.0" stroke="#333" stroke-width="1.0"/>
<path d="M118.0,292.3 L118.8,290.4 M115.4,301.8 L118.8,304.0 L123.0,303.4" fill="none" stroke="#888" stroke-width="0.5"/>
<path d="M207.8,293.6 L206.2,296.4 L203.0,296.4 L201.4,293.6 L203.0,290.8 L206.2,290.8 Z" fill="none" stroke="#666" stroke-width="0.55"/>
<path d="M202.5,297.8 L201.0,300.5 L197.8,300.5 L196.3,297.8 L197.8,295.1 L201.0,295.1 Z" fill="none" stroke="#666" stroke-width="0.55"/>
<path d="M198.2,290.0 L201.4,292.2" stroke="#333" stroke-width="1.1"/>
<path d="M197.7,300.6 L197.3,303.2" stroke="#333" stroke-width="1.0"/>
<path d="M204.8,290.5 L205.6,288.6 M202.2,300.0 L205.6,302.2 L209.8,301.6" fill="none" stroke="#888" stroke-width="0.5"/>
<path d="M280.1,303.6 L278.5,306.4 L275.3,306.4 L273.7,303.6 L275.3,300.8 L278.5,300.8 Z" fill="none" stroke="#666" stroke-width="0.55"/>
<path d="M274.8,307.8 L273.2,310.5 L270.1,310.5 L268.6,307.8 L270.1,305.1 L273.2,305.1 Z" fill="none" stroke="#666" stroke-width="0.55"/>
<path d="M270.5,300.0 L273.7,302.2" stroke="#333" stroke-width="1.1"/>
<path d="M270.0,310.6 L269.6,313.2" stroke="#333" stroke-width="1.0"/>
<path d="M277.1,300.5 L277.9,298.6 M274.5,310.0 L277.9,312.2 L282.1,311.6" fill="none" stroke="#888" stroke-width="0.5"/>
<text x="73.8" y="308.2" font-size="4.2" text-anchor="middle" font-weight="bold" fill="#666" stroke="#666" stroke-width="0.12">-O</text>
<text x="136.3" y="307.4" font-size="4.2" text-anchor="middle" font-weight="bold" fill="#666" stroke="#666" stroke-width="0.12">-O</text>
<text x="289.5" y="315.8" font-size="3.3" text-anchor="middle" font-weight="normal" fill="#333" textLength="17" lengthAdjust="spacingAndGlyphs">+O-H2, -O</text>
<path d="M161.6,327.6 l1.8,0 M160.8,329.4 l1.8,0.2 M162.4,326.6 l0.4,1" fill="none" stroke="#3a78c8" stroke-width="0.8"/>
<line x1="164.1" y1="331" x2="164.1" y2="338.3" stroke="#b8b8b8" stroke-width="0.6"/>
</svg>
</body></html>
